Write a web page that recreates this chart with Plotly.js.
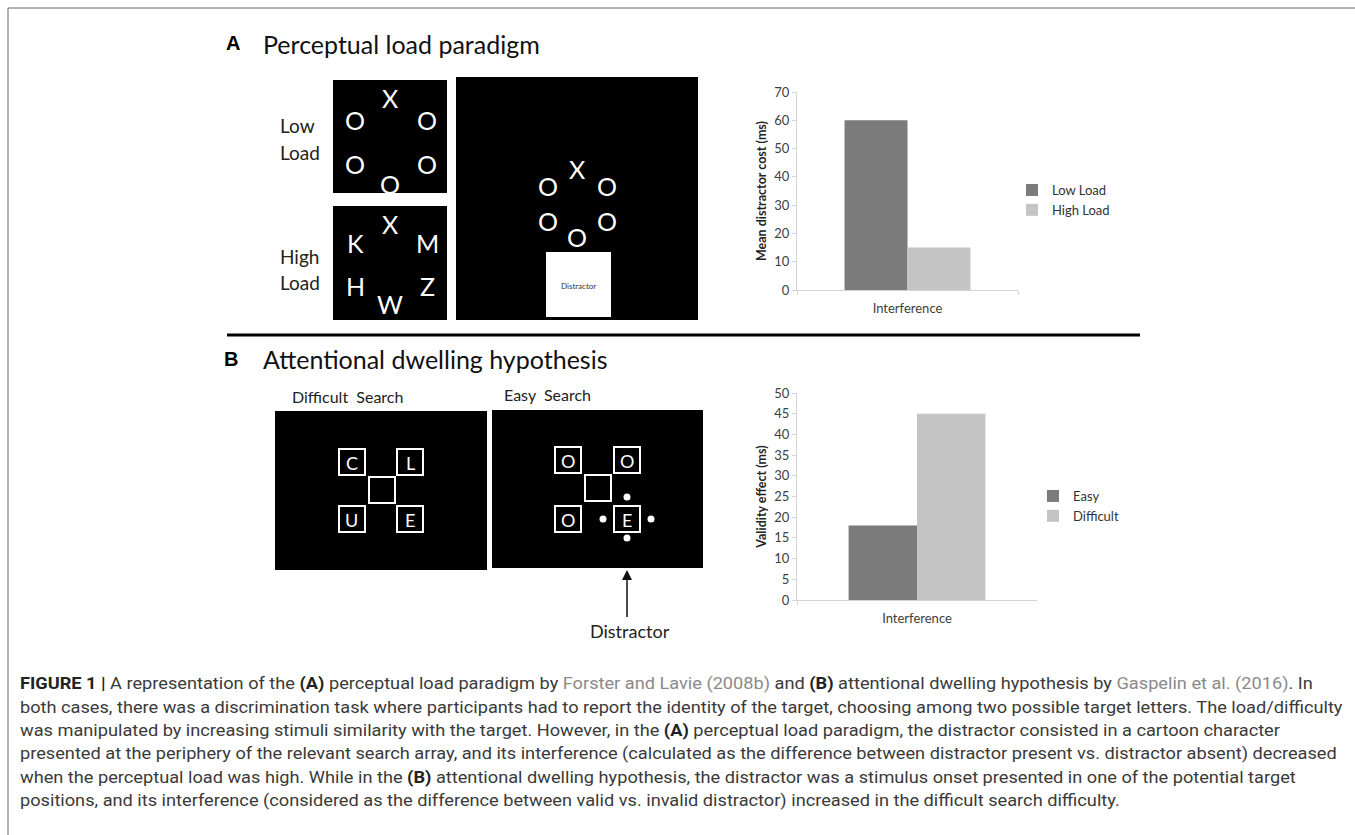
<!DOCTYPE html>
<html>
<head>
<meta charset="utf-8">
<script src="https://cdn.plot.ly/plotly-3.0.1.min.js"></script>
<style>
  html, body { margin:0; padding:0; background:#fff; }
  #wrap { position:relative; width:1355px; height:835px; overflow:hidden; }
  #chart { position:absolute; left:0; top:0; width:1355px; height:835px; }
  .cap { position:absolute; left:20px; white-space:nowrap; font-family:"Roboto","Liberation Sans",sans-serif;
         font-size:16px; color:#3a3a3a; transform-origin:0 50%; line-height:20px; }
  .cap b { color:#222; font-weight:700; }
  .cap .ref { color:#8a8a8a; }
</style>
</head>
<body>
<div id="wrap">
  <div id="chart"></div>
  <div id="caption"></div>
</div>
<script>
// ---------- data ----------
const categories = ['Interference'];
const loadSeries = ['Low Load', 'High Load'];
const loadValues = [60, 15];
const searchSeries = ['Easy', 'Difficult'];
const searchValues = [18, 45];
const loadTicks = [0, 10, 20, 30, 40, 50, 60, 70];
const searchTicks = [0, 5, 10, 15, 20, 25, 30, 35, 40, 45, 50];
const seriesColors = ['#7b7b7b', '#c4c4c4'];

const captionLines = [
  '<b>FIGURE 1 |</b> A representation of the <b>(A)</b> perceptual load paradigm by <span class="ref">Forster and Lavie (2008b)</span> and <b>(B)</b> attentional dwelling hypothesis by <span class="ref">Gaspelin et al. (2016)</span>. In',
  'both cases, there was a discrimination task where participants had to report the identity of the target, choosing among two possible target letters. The load/difficulty',
  'was manipulated by increasing stimuli similarity with the target. However, in the <b>(A)</b> perceptual load paradigm, the distractor consisted in a cartoon character',
  'presented at the periphery of the relevant search array, and its interference (calculated as the difference between distractor present vs. distractor absent) decreased',
  'when the perceptual load was high. While in the <b>(B)</b> attentional dwelling hypothesis, the distractor was a stimulus onset presented in one of the potential target',
  'positions, and its interference (considered as the difference between valid vs. invalid distractor) increased in the difficult search difficulty.'
];
const captionLineEnds = [1313, 1340, 1094, 1339, 1112, 910];
const captionLineY = [684, 708, 731, 754, 778, 801];

// ---------- helpers (pixel -> paper) ----------
const W = 1355, H = 835;
const px = x => x / W;
const py = y => 1 - y / H;
const shapes = [];
const annotations = [];
function rect(x0, y0, x1, y1, fill, lineColor, lineWidth) {
  shapes.push({type:'rect', xref:'paper', yref:'paper', x0:px(x0), x1:px(x1), y0:py(y0), y1:py(y1),
    fillcolor: fill, line:{color: lineColor || fill, width: lineWidth || 0}, layer:'above'});
}
function line(x0, y0, x1, y1, color, width) {
  shapes.push({type:'line', xref:'paper', yref:'paper', x0:px(x0), x1:px(x1), y0:py(y0), y1:py(y1),
    line:{color:color, width:width}, layer:'above'});
}
function circle(cx, cy, r, fill) {
  shapes.push({type:'circle', xref:'paper', yref:'paper', x0:px(cx-r), x1:px(cx+r), y0:py(cy+r), y1:py(cy-r),
    fillcolor:fill, line:{width:0}, layer:'above'});
}
function txt(x, y, text, size, color, opts) {
  opts = opts || {};
  annotations.push({xref:'paper', yref:'paper', x:px(x), y:py(y), text:text, showarrow:false,
    xanchor: opts.xanchor || 'center', yanchor:'middle',
    font:{family: opts.family || 'Lato, "Open Sans", sans-serif', size:size, color:color}});
}
function sq(cx, cy, s, letter, size) {
  rect(cx - s/2, cy - s/2, cx + s/2, cy + s/2, 'rgba(0,0,0,0)', '#ffffff', 2);
  if (letter) txt(cx, cy + 1, letter, size, '#ffffff');
}

// frame
line(8, 8, 1355, 8, '#666', 1);
line(8, 8, 8, 835, '#666', 1);
// separator
line(227, 335, 1140, 335, '#000', 3);

// ---------- panel A ----------
txt(224, 43, '<b>A</b>', 20, '#000', {xanchor:'left', family:'"Liberation Sans", Arial, sans-serif'});
txt(261, 44, 'Perceptual load paradigm', 25, '#111', {xanchor:'left'});
txt(278, 126, 'Low', 19, '#222', {xanchor:'left'});
txt(278, 152, 'Load', 19, '#222', {xanchor:'left'});
txt(278, 256, 'High', 19, '#222', {xanchor:'left'});
txt(278, 282, 'Load', 19, '#222', {xanchor:'left'});

rect(333, 80, 447, 193, '#000');
rect(333, 206, 447, 320, '#000');
rect(456, 77, 698, 320, '#000');
rect(546, 252, 611, 317, '#fff');
txt(578, 286, 'Distractor', 8, '#333');

const lowLetters = [['X',390,98],['O',355,120],['O',427,120],['O',355,164],['O',427,164],['O',390,184]];
const highLetters = [['X',390,224],['K',355,243],['M',427,243],['H',355,286],['Z',427,286],['W',390,304]];
const bigLetters = [['X',577,169],['O',548,186],['O',607,186],['O',548,221],['O',607,221],['O',577,237]];
[...lowLetters, ...highLetters, ...bigLetters].forEach(l => txt(l[1], l[2], l[0], 25, '#fff'));

// ---------- panel B ----------
txt(222, 359, '<b>B</b>', 20, '#000', {xanchor:'left', family:'"Liberation Sans", Arial, sans-serif'});
txt(261, 359, 'Attentional dwelling hypothesis', 25, '#111', {xanchor:'left'});
txt(290, 396, 'Difficult&nbsp;&nbsp;Search', 16, '#222', {xanchor:'left'});
txt(502, 394, 'Easy&nbsp;&nbsp;Search', 16, '#222', {xanchor:'left'});
rect(275, 411, 487, 570, '#000');
rect(492, 410, 703, 568, '#000');
sq(352, 462, 26, 'C', 18); sq(410, 462, 26, 'L', 18); sq(382, 490, 26, '', 18);
sq(352, 519, 26, 'U', 18); sq(410, 519, 26, 'E', 18);
sq(568, 460, 26, 'O', 18); sq(627, 460, 26, 'O', 18); sq(598, 488, 26, '', 18);
sq(568, 519, 26, 'O', 18); sq(627, 519, 26, 'E', 18);
circle(627, 497, 3.5, '#fff'); circle(603, 519, 3.5, '#fff');
circle(651, 519, 3.5, '#fff'); circle(627, 538, 3.5, '#fff');
// arrow
line(627, 617, 627, 578, '#111', 1.5);
shapes.push({type:'path', xref:'paper', yref:'paper', layer:'above',
  path:`M ${px(622)} ${py(580)} L ${px(632)} ${py(580)} L ${px(627)} ${py(570)} Z`,
  fillcolor:'#111', line:{width:0}});
txt(630, 631, 'Distractor', 18, '#222');

// ---------- bar traces ----------
const traces = [];
loadSeries.forEach((name, i) => traces.push({
  type:'bar', name:name, x:categories, y:[loadValues[i]], xaxis:'x', yaxis:'y', legend:'legend',
  marker:{color:seriesColors[i], line:{width:0}}, hoverinfo:'skip'
}));
searchSeries.forEach((name, i) => traces.push({
  type:'bar', name:name, x:categories, y:[searchValues[i]], xaxis:'x2', yaxis:'y2', legend:'legend2',
  marker:{color:seriesColors[i], line:{width:0}}, hoverinfo:'skip'
}));

const axFont = {family:'Lato, "Open Sans", sans-serif', size:13, color:'#404040'};
function xAxis(x0, x1, anchor) {
  return {domain:[px(x0), px(x1)], anchor:anchor, showline:true, linecolor:'#d4d4d4', linewidth:1,
    ticks:'outside', tickson:'boundaries', ticklen:4, tickcolor:'#d4d4d4', showgrid:false,
    tickfont:axFont, fixedrange:true, zeroline:false, ticklabelstandoff:6};
}
function yAxis(y0, y1, anchor, tickvals, title) {
  return {domain:[py(y0), py(y1)], anchor:anchor, range:[tickvals[0], tickvals[tickvals.length-1]],
    tickvals:tickvals, showline:true, linecolor:'#d4d4d4', linewidth:1, ticks:'outside', ticklen:4,
    tickcolor:'#d4d4d4', showgrid:false, zeroline:false, tickfont:axFont, fixedrange:true,
    title:{text:'<b>' + title + '</b>', font:{family:'Lato, "Open Sans", sans-serif', size:12.5, color:'#222'}, standoff:4}};
}

const layout = {
  width:W, height:H, margin:{l:0, r:0, t:0, b:0},
  paper_bgcolor:'#fff', plot_bgcolor:'rgba(0,0,0,0)',
  font:{family:'Lato, "Open Sans", sans-serif', color:'#333'},
  barmode:'group', bargap:0.43, bargroupgap:0,
  xaxis: xAxis(797, 1018, 'y'),
  yaxis: yAxis(290, 92, 'x', loadTicks, 'Mean distractor cost (ms)'),
  xaxis2: xAxis(797, 1037, 'y2'),
  yaxis2: yAxis(600, 393, 'x2', searchTicks, 'Validity effect (ms)'),
  legend:{x:px(1012), y:py(200), xanchor:'left', yanchor:'middle', bgcolor:'rgba(0,0,0,0)',
    font:{family:'Lato, "Open Sans", sans-serif', size:13, color:'#333'}, itemwidth:30, tracegroupgap:0},
  legend2:{x:px(1033), y:py(506), xanchor:'left', yanchor:'middle', bgcolor:'rgba(0,0,0,0)',
    font:{family:'Lato, "Open Sans", sans-serif', size:13, color:'#333'}, itemwidth:30, tracegroupgap:0},
  showlegend:true,
  shapes:shapes, annotations:annotations
};

Plotly.newPlot('chart', traces, layout, {displayModeBar:false, staticPlot:true});

// ---------- caption ----------
const cap = document.getElementById('caption');
const lineEls = captionLines.map((html, i) => {
  const d = document.createElement('div');
  d.className = 'cap';
  d.innerHTML = html;
  d.style.top = (captionLineY[i] - 10) + 'px';
  cap.appendChild(d);
  return d;
});
function fitCaption() {
  // one common horizontal scale, taken from the full-width lines
  let ratios = [];
  lineEls.forEach((d, i) => {
    d.style.transform = 'none';
    const w = d.getBoundingClientRect().width;
    if (w > 0 && [0, 1, 3].includes(i)) ratios.push((captionLineEnds[i] - 20) / w);
  });
  if (!ratios.length) return;
  const s = ratios.reduce((a, b) => a + b, 0) / ratios.length;
  lineEls.forEach(d => { d.style.transform = 'scaleX(' + s + ')'; });
}
fitCaption();
if (document.fonts && document.fonts.ready) document.fonts.ready.then(fitCaption);
</script>
</body>
</html>
